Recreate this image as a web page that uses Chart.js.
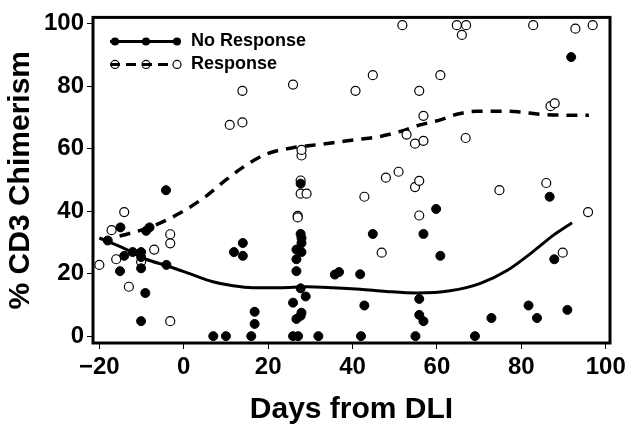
<!DOCTYPE html>
<html>
<head>
<meta charset="utf-8">
<title>CD3 Chimerism</title>
<script src="https://cdn.jsdelivr.net/npm/chart.js@4.4.1/dist/chart.umd.min.js"></script>
<style>
  html, body { margin: 0; padding: 0; background: #fff; }
  #wrap { width: 632px; height: 432px; }
</style>
</head>
<body>
<div id="wrap"><canvas id="myChart" width="632" height="432"></canvas></div>
<script>
"use strict";

// ticks
const xTicks = [-20, 0, 20, 40, 60, 80, 100];
const yTicks = [0, 20, 40, 60, 80, 100];

// No Response (filled dots)
const noRespDays = [-18, -15, -15.1, -14.1, -12.1, -10.1, -10.1, -10.1, -9.1, -10.1, -8.9, -8.1, -4.2, -4.1,
  7, 10, 11.9, 14, 14, 16, 16.8, 16.8, 25.9, 27.1, 25.9, 26.7, 27.7, 27.9, 28.9, 27.7, 26.7, 26.7, 27.9,
  26.7, 27.9, 27.9, 27.7, 27.7, 31.9, 35.8, 36.8, 41.8, 42, 42.8, 44.8, 54.9, 55.8, 55.8, 56.8, 56.8,
  59.8, 60.8, 69, 72.9, 81.7, 83.7, 86.7, 87.8, 90.9, 91.8];
const noRespCd3 = [30.6, 34.8, 20.8, 25.7, 26.9, 26.9, 25.3, 21.7, 13.8, 4.8, 33.7, 34.8, 46.7, 22.8,
  0, 0, 26.9, 29.8, 25.7, 0, 3.9, 7.8, 0, 0, 10.7, 5.5, 6.5, 7.5, 12.7, 15.3, 20.8, 24.6, 26.9,
  27.7, 29.8, 31.4, 32.7, 48.8, 0, 19.7, 20.5, 19.8, 0, 9.8, 32.7, 0, 11.9, 6.8, 4.8, 32.7,
  40.7, 25.7, 0, 5.8, 9.8, 5.8, 44.6, 24.6, 8.4, 89.3];

// Response (open circles)
const respDays = [-20, -17.1, -16, -14.1, -13, -10.1, -7, -3.2, -3.2, -3.2, 10.9, 13.9, 13.9, 25.9,
  27, 27, 27.7, 29.1, 27.7, 27.9, 27.9, 40.7, 42.8, 44.8, 46.9, 47.9, 50.9, 51.8, 52.8, 54.8, 54.8,
  55.8, 55.8, 55.8, 56.8, 56.8, 60.8, 64.7, 65.9, 66.9, 66.8, 74.8, 82.8, 85.9, 86.9, 87.9, 89.8,
  92.8, 95.8, 96.9];
const respCd3 = [22.8, 33.9, 24.6, 39.7, 15.8, 23.8, 27.7, 32.6, 29.7, 4.8, 67.6, 68.4, 78.5, 80.5,
  38.5, 38, 45.6, 45.6, 49.8, 57.8, 59.6, 78.5, 44.6, 83.5, 26.7, 50.7, 52.6, 99.5, 64.5, 47.7, 61.6,
  49.7, 38.6, 78.5, 62.5, 70.5, 83.5, 99.5, 96.4, 99.5, 63.4, 46.7, 99.5, 49, 73.6, 74.5, 26.7,
  98.4, 39.7, 99.5];

// smoothed trend lines
const noRespFitDays = [-20, -14.5, -8.9, -4.2, 1.4, 6.9, 11.7, 16.4, 22.8, 29.1, 35.4, 41.8, 48, 55.2,
  63.1, 70.3, 76.6, 82.9, 87.7, 92];
const noRespFitCd3 = [31.4, 28.3, 24.6, 22.6, 20, 17.4, 16.1, 15.5, 15.5, 15.8, 15.5, 15, 14.3, 13.8,
  14.5, 16.9, 21, 27.2, 32.4, 36.3];
const respFitDays = [-15.2, -7.7, -1, 5.3, 10, 14, 19.6, 25.9, 30, 35.4, 41, 45.7, 51.3, 56, 60.8,
  64.7, 69.5, 76.6, 79.8, 84.5, 92.4, 96];
const respFitCd3 = [32, 35, 39.3, 44.8, 50, 54, 58.3, 60.3, 61, 61.9, 62.9, 63.7, 65.5, 67.6, 69.2,
  71, 72, 72, 71.7, 71, 70.7, 70.7];

function toPoints(xs, ys) {
  return xs.map((x, i) => ({ x: x, y: ys[i] }));
}

Chart.defaults.font.family = "'Liberation Sans', Arial, sans-serif";
Chart.defaults.font.weight = "bold";
Chart.defaults.color = "#000";

// frame round the plot area
const framePlugin = {
  id: "frame",
  afterDatasetsDraw(chart) {
    const a = chart.chartArea;
    const ctx = chart.ctx;
    ctx.save();
    ctx.strokeStyle = "#000";
    ctx.lineWidth = 3;
    ctx.strokeRect(a.left, a.top, a.right - a.left, a.bottom - a.top);
    ctx.restore();
  },
};

// legend in the upper left corner, line with three markers
const legendPlugin = {
  id: "cornerLegend",
  afterDraw(chart) {
    const a = chart.chartArea;
    const ctx = chart.ctx;
    const x0 = a.left + 17;
    const marks = [x0 + 5, x0 + 36, x0 + 67];
    ctx.save();
    ctx.strokeStyle = "#000";
    ctx.fillStyle = "#000";

    // No Response
    let y = a.top + 24;
    ctx.lineWidth = 3;
    ctx.setLineDash([]);
    ctx.beginPath();
    ctx.moveTo(x0, y);
    ctx.lineTo(x0 + 70, y);
    ctx.stroke();
    marks.forEach((mx) => {
      ctx.beginPath();
      ctx.arc(mx, y, 4, 0, Math.PI * 2);
      ctx.fill();
    });

    // Response
    y = a.top + 47;
    ctx.lineWidth = 1.2;
    marks.forEach((mx, i) => {
      ctx.beginPath();
      ctx.arc(mx, y, 4, 0, Math.PI * 2);
      if (i === 2) {
        ctx.fillStyle = "#fff";
        ctx.fill();
      }
      ctx.stroke();
    });
    ctx.lineWidth = 3;
    ctx.setLineDash([10, 6]);
    ctx.beginPath();
    ctx.moveTo(x0, y);
    ctx.lineTo(x0 + 62, y);
    ctx.stroke();

    ctx.setLineDash([]);
    ctx.fillStyle = "#000";
    ctx.font = "bold 18px 'Liberation Sans', Arial, sans-serif";
    ctx.textBaseline = "middle";
    ctx.fillText("No Response", x0 + 81, a.top + 24);
    ctx.fillText("Response", x0 + 81, a.top + 47);
    ctx.restore();
  },
};

const config = {
  type: "scatter",
  data: {
    datasets: [
      {
        label: "No Response",
        data: toPoints(noRespDays, noRespCd3),
        pointRadius: 4.5,
        pointBackgroundColor: "#000",
        pointBorderColor: "#000",
        pointBorderWidth: 1,
        order: 1,
      },
      {
        label: "Response",
        data: toPoints(respDays, respCd3),
        pointRadius: 4.5,
        pointBackgroundColor: "#fff",
        pointBorderColor: "#000",
        pointBorderWidth: 1.2,
        order: 1,
      },
      {
        label: "No Response fit",
        data: toPoints(noRespFitDays, noRespFitCd3),
        showLine: true,
        borderColor: "#000",
        borderWidth: 3,
        pointRadius: 0,
        cubicInterpolationMode: "monotone",
        order: 2,
      },
      {
        label: "Response fit",
        data: toPoints(respFitDays, respFitCd3),
        showLine: true,
        borderColor: "#000",
        borderWidth: 3.5,
        borderDash: [11, 8],
        pointRadius: 0,
        cubicInterpolationMode: "monotone",
        order: 2,
      },
    ],
  },
  options: {
    responsive: false,
    animation: false,
    layout: { padding: { left: 0, right: 22, top: 8, bottom: 0 } },
    plugins: {
      legend: { display: false },
      tooltip: { enabled: false },
    },
    scales: {
      x: {
        type: "linear",
        min: -21.5,
        max: 101,
        afterBuildTicks: (scale) => {
          scale.ticks = xTicks.map((v) => ({ value: v }));
        },
        afterFit: (scale) => {
          scale.height = 89;
        },
        border: { display: false },
        grid: { drawOnChartArea: false, drawTicks: true, tickLength: 6, color: "#000", lineWidth: 1 },
        ticks: {
          padding: 4,
          maxRotation: 0,
          font: { size: 24, weight: "bold" },
          callback: (v) => (v < 0 ? "\u2212" + Math.abs(v) : String(v)),
        },
        title: {
          display: true,
          text: "Days from DLI",
          font: { size: 30, weight: "bold", lineHeight: 1.2 },
          padding: { top: 4, bottom: 4 },
        },
      },
      y: {
        type: "linear",
        min: -2.2,
        max: 102,
        afterBuildTicks: (scale) => {
          scale.ticks = yTicks.map((v) => ({ value: v }));
        },
        afterFit: (scale) => {
          scale.width = 93;
        },
        border: { display: false },
        grid: { drawOnChartArea: false, drawTicks: true, tickLength: 6, color: "#000", lineWidth: 1 },
        ticks: {
          padding: 3,
          font: { size: 24, weight: "bold" },
        },
        title: {
          display: true,
          text: "% CD3 Chimerism",
          font: { size: 30, weight: "bold", lineHeight: 1.2 },
          padding: { top: 3, bottom: 4 },
        },
      },
    },
  },
  plugins: [framePlugin, legendPlugin],
};

let chart = new Chart(document.getElementById("myChart"), config);
</script>
</body>
</html>
